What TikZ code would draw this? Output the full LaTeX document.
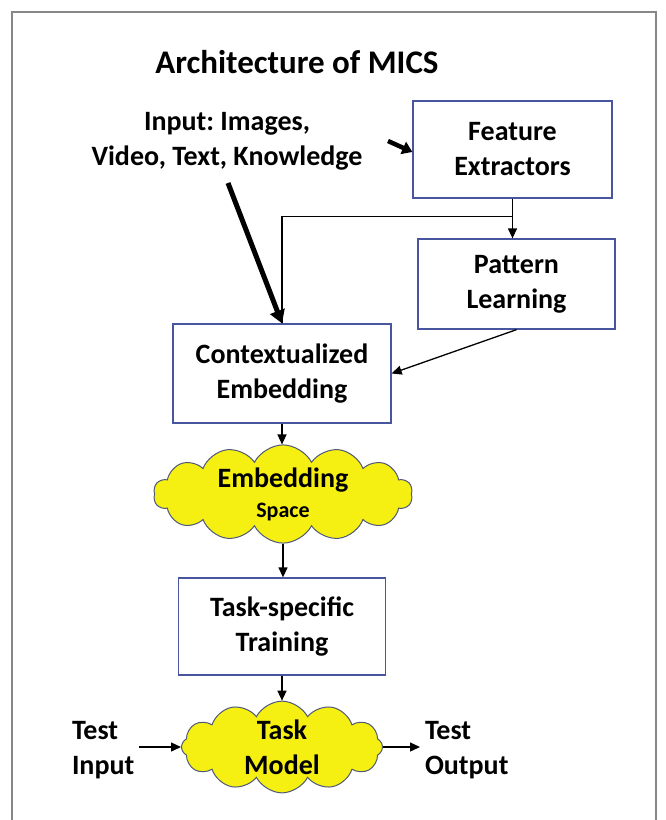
\documentclass[tikz,border=0pt]{standalone}
\usepackage{fontspec}
\setmainfont{Carlito}
\usetikzlibrary{shapes.symbols,arrows.meta,calc}
\definecolor{boxblue}{RGB}{72,86,160}
\definecolor{cloudyellow}{RGB}{246,240,18}
\definecolor{cloudline}{RGB}{78,88,120}
\definecolor{framegray}{RGB}{135,135,135}
\frenchspacing
\begin{document}
\begin{tikzpicture}[x=1pt,y=-1pt,
  every node/.style={font=\bfseries\fontsize{28}{35}\selectfont, align=center, text=black},
  blockbox/.style={draw=boxblue, line width=1.3pt, fill=white, inner sep=0pt},
  cloudnode/.style={cloud, cloud puffs=14, cloud puff arc=125, cloud ignores aspect,
    draw=cloudline, fill=cloudyellow, line width=1pt, inner sep=0pt},
  arr/.style={-{Triangle[length=10pt,width=9pt]}, line width=1.3pt},
  bigarr/.style={-{Triangle[length=13pt,width=15pt]}, line width=5pt},
  midarr/.style={-{Triangle[length=10pt,width=13pt]}, line width=4.5pt},
  plainline/.style={line width=1.3pt},
  textlabel/.style={inner sep=0pt}]
\useasboundingbox (0,0) rectangle (665,820);
\fill[white] (0,0) rectangle (665,820);
% frame
\draw[framegray, line width=1.5pt] (12,820) -- (12,12) -- (656,12) -- (656,820);

% title
\node[textlabel, font=\bfseries\fontsize{33}{40}\selectfont] (title) at (297,62) {Architecture of MICS};

% input text
\node[textlabel] (inp) at (227,141) {Input: Images,\\Video, Text, Knowledge};

% boxes
\node[blockbox, minimum width=199pt, minimum height=97pt] (feat) at (512.5,149.5) {Feature\\Extractors};
\node[blockbox, minimum width=197pt, minimum height=90pt] (patt) at (516.5,284) {Pattern\\Learning};
\node[blockbox, minimum width=218pt, minimum height=99pt] (ctx) at (282,373.5) {Contextualized\\Embedding};
\node[cloudnode, minimum width=259pt, minimum height=86pt] (emb) at (283,494) {Embedding\\[-5pt]{\fontsize{22}{26}\selectfont Space}};
\node[blockbox, minimum width=207pt, minimum height=97pt] (task) at (282,626.5) {Task-specific\\Training};
\node[cloudnode, cloud puffs=12, minimum width=201pt, minimum height=88pt] (model) at (282,747) {Task\\Model};

% test labels
\node[textlabel, align=left, anchor=west, outer xsep=5pt] (tin) at (67,750) {Test\\Input};
\node[textlabel, align=left, anchor=west, outer xsep=5pt] (tout) at (420,750) {Test\\Output};

% connectors
\coordinate (a1) at (388,141);
\coordinate (a2) at (228,183);
\draw[midarr] (a1) -- ([yshift=-2.5pt]feat.west);
\draw[plainline] (feat.south) -- ++(0,18) -| (ctx.north);
\draw[bigarr] (a2) -- (ctx.north);
\draw[arr] (feat.south) -- (feat.south |- patt.north);
\draw[arr] (patt.south) -- (ctx.east);
\draw[arr] (ctx.south) -- (ctx.south |- emb.north);
\draw[arr] (emb.south) -- (emb.south |- task.north);
\draw[arr] (task.south) -- (task.south |- model.north);
\draw[arr] (tin.east |- model.west) -- (model.west);
\draw[arr] (model.east) -- (tout.west |- model.east);
\end{tikzpicture}
\end{document}
